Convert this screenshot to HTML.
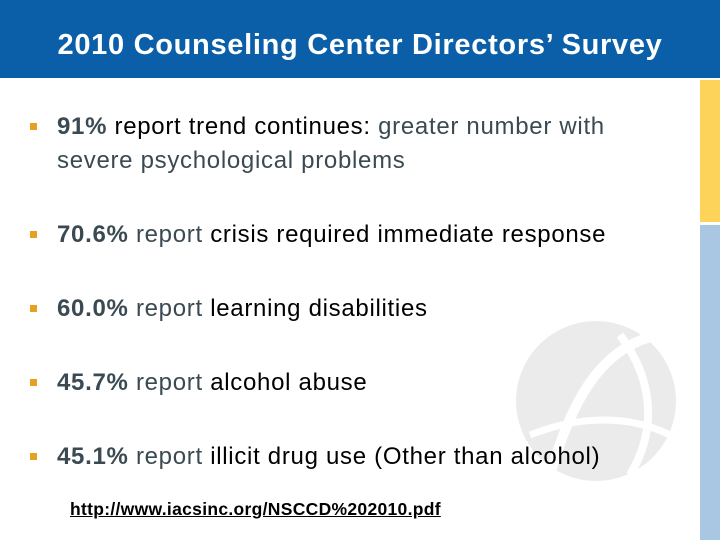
<!DOCTYPE html>
<html><head><meta charset="utf-8"><style>
body{margin:0;width:720px;height:540px;overflow:hidden;background:#fff;font-family:"Liberation Sans",sans-serif;position:relative}
#title{position:absolute;left:0;top:0;width:720px;height:78px;background:#0a5fa8;color:#fff;font-weight:bold;font-size:29px;text-align:center;line-height:90px;letter-spacing:0.7px}
.bar{position:absolute;left:700px;width:20px}
.b{position:absolute;left:30px;font-size:24px;color:#000;line-height:34px;letter-spacing:0.7px;white-space:nowrap}
.b .sq{position:absolute;left:0;top:13px;width:7px;height:7px;background:#e8a020}
.b .t{margin-left:27px;display:block}
.g{color:#3b4a52}
.bd{font-weight:bold;color:#3b4a52}
#link{position:absolute;left:70px;top:499px;font-size:17.5px;font-weight:bold;text-decoration:underline;color:#000;letter-spacing:0.3px}
</style></head><body>
<div id="title">2010 Counseling Center Directors’ Survey</div>
<div class="bar" style="top:80px;height:142px;background:#fdd35a"></div>
<div class="bar" style="top:225px;height:315px;background:#a9c6e2"></div>
<svg style="position:absolute;left:510px;top:315px" width="170" height="170">
<circle cx="86" cy="86" r="80" fill="#ebebeb"/>
<path d="M40 160 C60 90 90 30 150 20" stroke="#fff" stroke-width="10" fill="none"/>
<path d="M20 120 C70 100 120 100 160 120" stroke="#fff" stroke-width="7" fill="none"/>
<path d="M110 20 C140 60 150 110 120 160" stroke="#fff" stroke-width="8" fill="none"/>
</svg>
<div class="b" style="top:110px"><span class="sq"></span><span class="t"><span class="bd">91%</span> report trend continues: <span class="g">greater number with<br>severe psychological problems</span></span></div>
<div class="b" style="top:218px"><span class="sq"></span><span class="t"><span class="bd">70.6%</span> <span class="g">report</span> crisis required immediate response</span></div>
<div class="b" style="top:292px"><span class="sq"></span><span class="t"><span class="bd">60.0%</span> <span class="g">report</span> learning disabilities</span></div>
<div class="b" style="top:366px"><span class="sq"></span><span class="t"><span class="bd">45.7%</span> <span class="g">report</span> alcohol abuse</span></div>
<div class="b" style="top:440px"><span class="sq"></span><span class="t"><span class="bd">45.1%</span> <span class="g">report</span> illicit drug use (Other than alcohol)</span></div>
<div id="link">http://www.iacsinc.org/NSCCD%202010.pdf</div>
</body></html>
